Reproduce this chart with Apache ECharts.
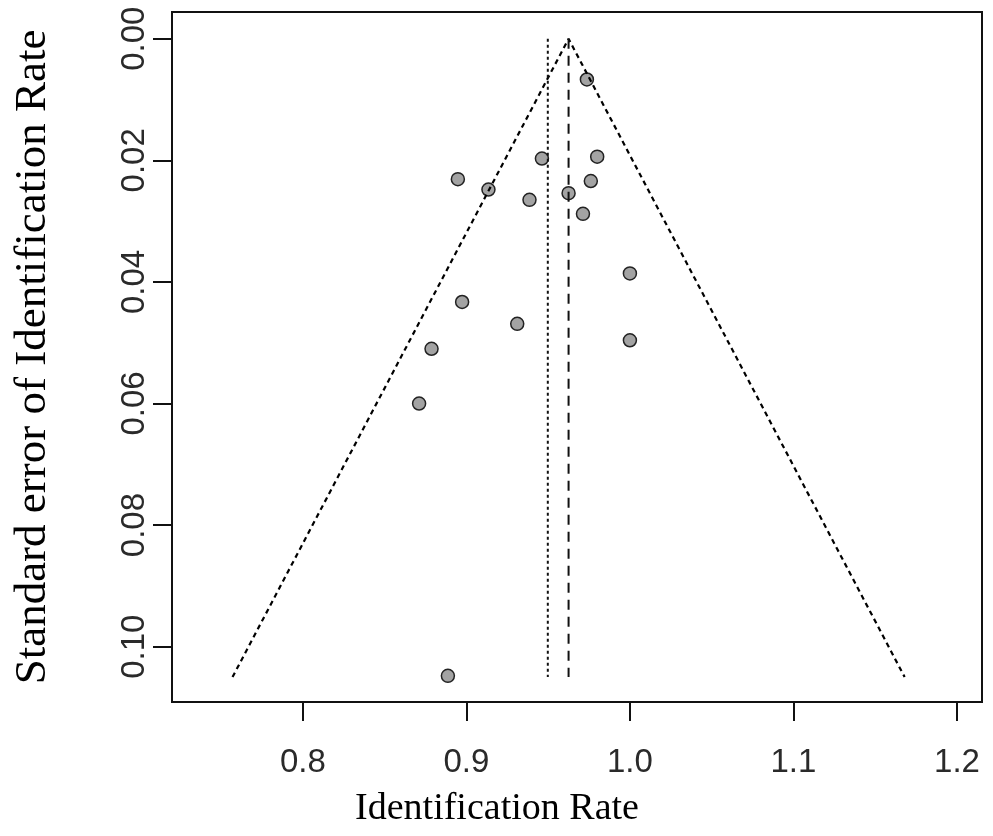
<!DOCTYPE html>
<html>
<head>
    <meta charset="UTF-8">
    <title>Funnel plot</title>
    <script src="https://cdn.jsdelivr.net/npm/echarts@6/dist/echarts.min.js"></script>
    <style>
        html, body {margin: 0; padding: 0; background: #fff;}
        #main {width: 993px; height: 836px;}
    </style>
</head>
<body>
<div id="main"></div>
<script>
    // study estimates
    var rate = [0.9737, 0.9462, 0.9800, 0.8948, 0.9135, 0.9761, 0.9386, 0.9625, 0.9713,
        1.0000, 0.8974, 0.9311, 1.0000, 0.8787, 0.8711, 0.8887];
    var se = [0.0067, 0.0197, 0.0194, 0.0231, 0.0248, 0.0234, 0.0265, 0.0254, 0.0288,
        0.0386, 0.0433, 0.0469, 0.0496, 0.0510, 0.0600, 0.1048];

    // funnel and reference lines
    var pooled = 0.9625;      // dashed line / apex
    var fixedLine = 0.9498;   // dotted line
    var seTop = 0, seBottom = 0.105;
    var funnelLow = 0.7570, funnelHigh = 1.1680;

    var xTicks = [0.8, 0.9, 1.0, 1.1, 1.2];
    var yTicks = [0, 0.02, 0.04, 0.06, 0.08, 0.10];

    var points = rate.map(function (r, i) { return [r, se[i]]; });

    var chart = echarts.init(document.getElementById('main'));
    chart.setOption({
        animation: false,
        backgroundColor: '#fff',
        grid: {
            left: 172, right: 11, top: 12, bottom: 134,
            show: true, borderColor: '#111', borderWidth: 2
        },
        xAxis: {
            type: 'value',
            min: 0.72, max: 1.2153,
            name: 'Identification Rate',
            nameLocation: 'middle',
            nameGap: 88,
            nameTextStyle: {fontFamily: 'Liberation Serif', fontSize: 38, color: '#000',
                padding: [0, 160, 0, 0]},
            axisLine: {show: false, onZero: false},
            splitLine: {show: false},
            axisTick: {show: true, length: 19, customValues: xTicks,
                lineStyle: {color: '#111', width: 2}},
            axisLabel: {
                customValues: xTicks, margin: 44,
                fontFamily: 'Liberation Sans', fontSize: 33, color: '#2a2a2a',
                formatter: function (v) { return v.toFixed(1); }
            }
        },
        yAxis: {
            type: 'value',
            inverse: true,
            min: -0.0044, max: 0.1091,
            name: 'Standard error of Identification Rate',
            nameLocation: 'middle',
            nameGap: 116,
            nameTextStyle: {fontFamily: 'Liberation Serif', fontSize: 45, color: '#000'},
            axisLine: {show: false, onZero: false},
            splitLine: {show: false},
            axisTick: {show: true, length: 19, customValues: yTicks,
                lineStyle: {color: '#111', width: 2}},
            axisLabel: {
                customValues: yTicks, margin: 21, rotate: 90,
                fontFamily: 'Liberation Sans', fontSize: 33, color: '#2a2a2a',
                formatter: function (v) { return v.toFixed(2); }
            }
        },
        series: [
            {
                type: 'line', symbol: 'none', silent: true,
                data: [[funnelLow, seBottom], [pooled, seTop], [funnelHigh, seBottom]],
                lineStyle: {color: '#000', width: 2.2, type: [5, 4]}
            },
            {
                type: 'line', symbol: 'none', silent: true,
                data: [[fixedLine, seTop], [fixedLine, seBottom]],
                lineStyle: {color: '#111', width: 2, type: [3, 3]}
            },
            {
                type: 'line', symbol: 'none', silent: true,
                data: [[pooled, seTop], [pooled, seBottom]],
                lineStyle: {color: '#111', width: 2, type: [10, 7]}
            },
            {
                type: 'scatter',
                data: points,
                symbolSize: 13,
                itemStyle: {color: '#a3a3a3', borderColor: '#222', borderWidth: 1.5, opacity: 1}
            }
        ]
    });
</script>
</body>
</html>
